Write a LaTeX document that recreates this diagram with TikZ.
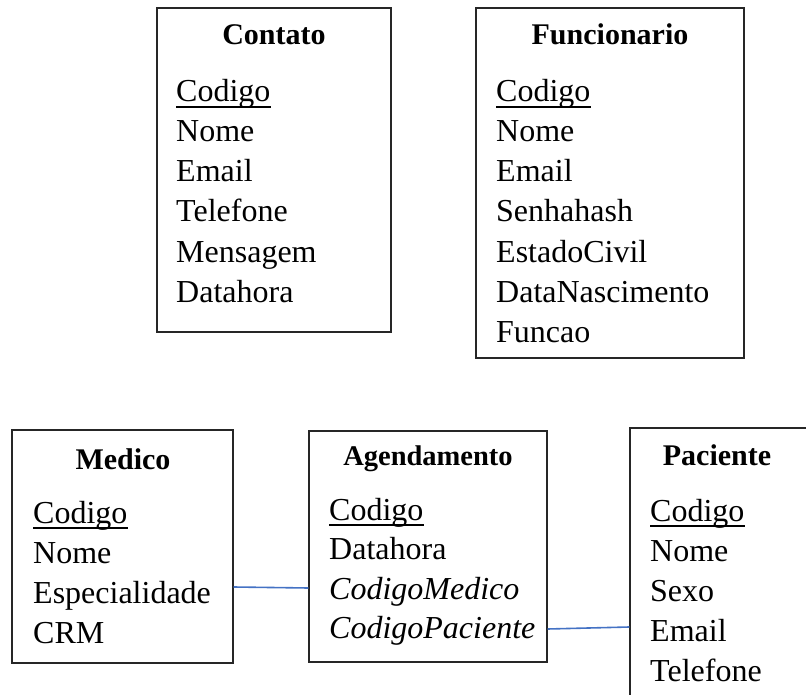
\documentclass[tikz,border=0pt]{standalone}
\usepackage{fontspec}
\setmainfont{Liberation Serif}
\definecolor{connblue}{HTML}{4472C4}
\definecolor{boxgray}{HTML}{262626}
\tikzset{
  entbox/.style={draw=boxgray, line width=1.3pt, inner sep=0pt},
  attr/.style={anchor=base west, inner sep=0pt, font=\fontsize{32}{38}\selectfont},
  ttl/.style={anchor=base, inner sep=0pt, font=\fontsize{30}{36}\selectfont\bfseries},
  ttlsmall/.style={anchor=base, inner sep=0pt, font=\fontsize{28.5}{34}\selectfont\bfseries},
  conn/.style={draw=connblue, line width=1.6pt},
  ulrule/.style={draw=black, line width=1.8pt}
}
\begin{document}
\begin{tikzpicture}[x=1pt,y=-1pt]
\useasboundingbox (0,0) rectangle (806,695);
% Contato
\node[entbox, minimum width=234pt, minimum height=324pt] (contato) at (274,170) {};
\node[ttl] (contatoT) at (274,45) {Contato};
\node[attr] (c1) at (176,102) {Codigo};
\node[attr] (c2) at (176,142) {Nome};
\node[attr] (c3) at (176,182) {Email};
\node[attr] (c4) at (176,222) {Telefone};
\node[attr] (c5) at (176,262) {Mensagem};
\node[attr] (c6) at (176,302) {Datahora};
% Funcionario
\node[entbox, minimum width=268pt, minimum height=350pt] (func) at (610,183) {};
\node[ttl] (funcT) at (610,45) {Funcionario};
\node[attr] (f1) at (496,102) {Codigo};
\node[attr] (f2) at (496,142) {Nome};
\node[attr] (f3) at (496,182) {Email};
\node[attr] (f4) at (496,222) {Senhahash};
\node[attr] (f5) at (496,262) {EstadoCivil};
\node[attr] (f6) at (496,302) {DataNascimento};
\node[attr] (f7) at (496,342) {Funcao};
% Medico
\node[entbox, minimum width=221pt, minimum height=233pt] (medico) at (122.5,546.5) {};
\node[ttl] (medicoT) at (123,469) {Medico};
\node[attr] (m1) at (33,523) {Codigo};
\node[attr] (m2) at (33,563) {Nome};
\node[attr] (m3) at (33,603) {Especialidade};
\node[attr] (m4) at (33,643) {CRM};
% Agendamento
\node[entbox, minimum width=238pt, minimum height=231pt] (agend) at (428,546.5) {};
\node[ttlsmall] (agendT) at (428,465) {Agendamento};
\node[attr] (a1) at (329,520) {Codigo};
\node[attr] (a2) at (329,559) {Datahora};
\node[attr] (a3) at (329,599) {\itshape CodigoMedico};
\node[attr] (a4) at (329,638) {\itshape CodigoPaciente};
% Paciente
\node[entbox, minimum width=184pt, minimum height=292pt] (pac) at (722,574) {};
\node[ttl] (pacT) at (717,465) {Paciente};
\node[attr] (p1) at (650,521) {Codigo};
\node[attr] (p2) at (650,561) {Nome};
\node[attr] (p3) at (650,601) {Sexo};
\node[attr] (p4) at (650,641) {Email};
\node[attr] (p5) at (650,681) {Telefone};
% key underlines
\foreach \k in {c1,f1,m1,a1,p1}
  \draw[ulrule] ([yshift=-5pt]\k.base west) -- ([yshift=-5pt]\k.base east);
% connectors
\draw[conn] (medico.east |- 0,587) -- (agend.west |- 0,588);
\draw[conn] (agend.east |- 0,629) -- (pac.west |- 0,627);
\end{tikzpicture}
\end{document}
